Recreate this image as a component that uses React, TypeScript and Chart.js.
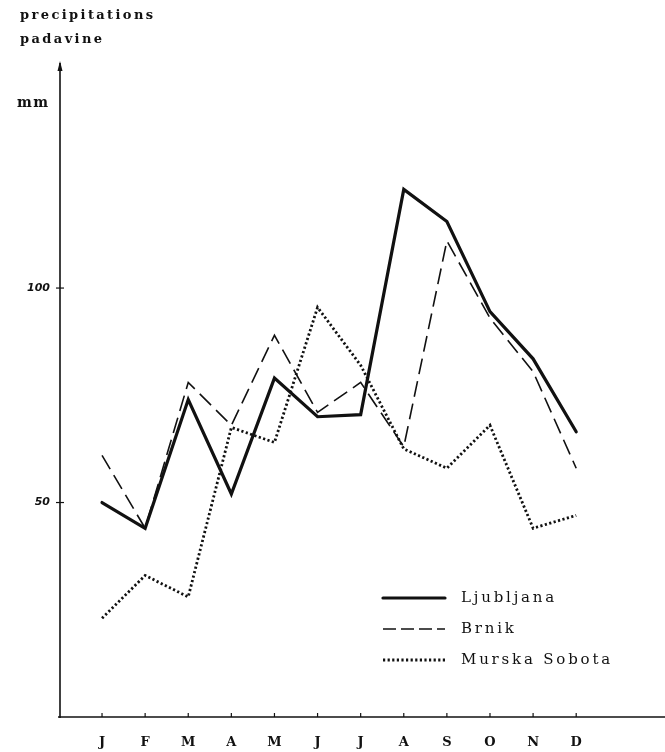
import React, { useEffect, useRef } from "react";
import { Chart, registerables } from "chart.js";

Chart.register(...registerables);

const months = ["J", "F", "M", "A", "M", "J", "J", "A", "S", "O", "N", "D"];
const ljubljana = [50, 44, 74, 52, 79, 70, 70.5, 123, 115.5, 94.5, 83.5, 66.5];
const brnik = [61, 44, 78, 68, 89, 71, 78, 63, 111, 93, 80.5, 58];
const murskaSobota = [23, 33, 28, 67.5, 64, 95.5, 82, 62.5, 58, 68, 44, 47];
const yTickValues = [50, 100];
const seriesNames = ["Ljubljana", "Brnik", "Murska Sobota"];
const titleLines = ["precipitations", "padavine"];
const unitLabel = "mm";

const W = 665;
const H = 752;

const styles = [
  { width: 3.2, dash: [] as number[], cap: "round" as CanvasLineCap },
  { width: 1.6, dash: [16, 7], cap: "butt" as CanvasLineCap },
  { width: 2.8, dash: [2.2, 2.4], cap: "butt" as CanvasLineCap },
];

const decorPlugin = {
  id: "decor",
  afterDraw(chart: any) {
    const ctx = chart.ctx as CanvasRenderingContext2D;
    const { left, right, top, bottom } = chart.chartArea;
    const xs = chart.scales.x;
    const ys = chart.scales.y;
    ctx.save();
    ctx.strokeStyle = "#111";
    ctx.fillStyle = "#111";
    // y axis
    ctx.lineWidth = 1.6;
    ctx.beginPath();
    ctx.moveTo(left, top - 2);
    ctx.lineTo(left, bottom + 1);
    ctx.stroke();
    // arrow
    ctx.beginPath();
    ctx.moveTo(left, top - 4);
    ctx.lineTo(left - 2.5, top + 6);
    ctx.lineTo(left + 2.5, top + 6);
    ctx.closePath();
    ctx.fill();
    // x axis
    ctx.beginPath();
    ctx.moveTo(left - 2, bottom);
    ctx.lineTo(right, bottom);
    ctx.stroke();
    // ticks
    ctx.lineWidth = 1.2;
    yTickValues.forEach((v) => {
      const y = ys.getPixelForValue(v);
      ctx.beginPath();
      ctx.moveTo(left - 4, y);
      ctx.lineTo(left + 4, y);
      ctx.stroke();
    });
    months.forEach((_, i) => {
      const x = xs.getPixelForValue(i);
      ctx.beginPath();
      ctx.moveTo(x, bottom - 4);
      ctx.lineTo(x, bottom);
      ctx.stroke();
    });
    // title text
    (ctx as any).letterSpacing = "2.4px";
    ctx.font = "bold 13px 'DejaVu Serif'";
    ctx.textAlign = "left";
    ctx.textBaseline = "alphabetic";
    ctx.fillText(titleLines[0], 20, 19);
    ctx.fillText(titleLines[1], 20, 43);
    (ctx as any).letterSpacing = "1.5px";
    ctx.font = "bold 14px 'DejaVu Serif'";
    ctx.fillText(unitLabel, 17, 107);
    // legend
    (ctx as any).letterSpacing = "2.8px";
    ctx.font = "15px 'DejaVu Serif'";
    const legY = [598, 629, 660];
    seriesNames.forEach((name, i) => {
      const st = styles[i];
      ctx.lineWidth = st.width;
      ctx.setLineDash(st.dash.length ? (i === 1 ? [13, 5] : st.dash) : []);
      ctx.lineCap = st.cap;
      ctx.beginPath();
      ctx.moveTo(383, legY[i]);
      ctx.lineTo(445, legY[i]);
      ctx.stroke();
      ctx.setLineDash([]);
      ctx.textBaseline = "middle";
      ctx.fillText(name, 461, legY[i]);
    });
    ctx.restore();
  },
};

const toPoints = (arr: number[]) => arr.map((v, i) => ({ x: i, y: v }));

export default function App() {
  const ref = useRef<HTMLCanvasElement | null>(null);
  useEffect(() => {
    document.body.style.margin = "0";
    const canvas = ref.current!;
    const seriesData = [ljubljana, brnik, murskaSobota];
    const chart = new Chart(canvas, {
      type: "line",
      data: {
        datasets: seriesData.map((arr, i) => ({
          label: seriesNames[i],
          data: toPoints(arr),
          borderColor: "#111",
          borderWidth: styles[i].width,
          borderDash: styles[i].dash,
          borderCapStyle: styles[i].cap,
          borderJoinStyle: "miter",
          pointRadius: 0,
          tension: 0,
          fill: false,
        })),
      },
      options: {
        animation: false,
        responsive: false,
        maintainAspectRatio: false,
        layout: { padding: { top: 65, left: 0, right: 0, bottom: 0 } },
        plugins: { legend: { display: false }, tooltip: { enabled: false } },
        scales: {
          x: {
            type: "linear",
            min: -0.975,
            max: 13.06,
            grid: { display: false, drawTicks: false },
            border: { display: false },
            afterBuildTicks: (s: any) => {
              s.ticks = months.map((_, i) => ({ value: i }));
            },
            afterFit: (s: any) => {
              s.height = 35;
            },
            ticks: {
              autoSkip: false,
              maxRotation: 0,
              padding: 18,
              color: "#111",
              font: { family: "'DejaVu Serif'", size: 13, weight: "bold" },
              callback: (v: any) => months[v as number] ?? "",
            },
          },
          y: {
            min: 0,
            max: 152,
            grid: { display: false, drawTicks: false },
            border: { display: false },
            afterBuildTicks: (s: any) => {
              s.ticks = yTickValues.map((v) => ({ value: v }));
            },
            afterFit: (s: any) => {
              s.width = 60;
            },
            ticks: {
              padding: 10,
              color: "#111",
              font: { family: "'DejaVu Sans'", size: 11, weight: "bold", style: "italic" },
            },
          },
        },
      },
      plugins: [decorPlugin],
    } as any);
    return () => chart.destroy();
  }, []);
  return (
    <div style={{ position: "absolute", left: 0, top: 0, width: W, height: H, background: "#fff" }}>
      <canvas ref={ref} width={W} height={H} style={{ display: "block", width: W, height: H }} />
    </div>
  );
}
